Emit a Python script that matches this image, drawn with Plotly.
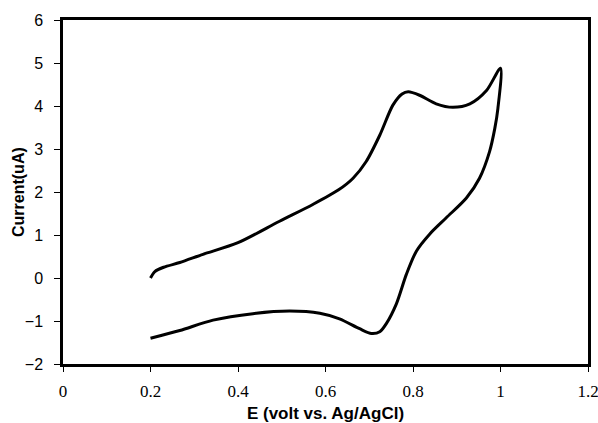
import plotly.graph_objects as go

# Forward (anodic) scan
E_fwd = [0.200, 0.210, 0.230, 0.267, 0.320, 0.400, 0.495, 0.571, 0.630, 0.663, 0.693,
         0.724, 0.754, 0.775, 0.789, 0.815, 0.853, 0.891, 0.930, 0.968, 1.000]
I_fwd = [0.00, 0.15, 0.25, 0.36, 0.55, 0.82, 1.32, 1.71, 2.05, 2.32, 2.71,
         3.32, 4.02, 4.28, 4.33, 4.25, 4.05, 3.97, 4.05, 4.36, 4.88]
# Reverse (cathodic) scan
E_rev = [1.000, 0.994, 0.987, 0.975, 0.952, 0.922, 0.876, 0.838, 0.808, 0.785, 0.762,
         0.739, 0.724, 0.705, 0.678, 0.632, 0.587, 0.518, 0.434, 0.343, 0.267, 0.200]
I_rev = [4.70, 3.94, 3.48, 2.94, 2.32, 1.86, 1.40, 1.02, 0.63, 0.09, -0.60,
         -1.06, -1.25, -1.29, -1.18, -0.95, -0.82, -0.77, -0.83, -0.98, -1.22, -1.40]

x_ticks = [0, 0.2, 0.4, 0.6, 0.8, 1, 1.2]
y_ticks = [-2, -1, 0, 1, 2, 3, 4, 5, 6]

fig = go.Figure()
fig.add_trace(go.Scatter(x=E_fwd + E_rev[1:], y=I_fwd + I_rev[1:], mode="lines",
                         line=dict(color="black", width=3, shape="spline", smoothing=0.8),
                         showlegend=False, hoverinfo="skip"))

fig.update_layout(
    width=598, height=423,
    margin=dict(l=63, r=10, t=20, b=59),
    paper_bgcolor="white", plot_bgcolor="white",
    xaxis=dict(range=[0, 1.2], tickvals=x_ticks, ticktext=[str(v) for v in x_ticks],
               automargin=False, ticklabelstandoff=5, ticklabeloverflow="allow",
               showgrid=False, zeroline=False, showline=True, linecolor="black", linewidth=2.5,
               mirror=True, ticks="outside", ticklen=5, tickcolor="black",
               tickfont=dict(family="Liberation Serif", size=17, color="black"),
               title=dict(text="<b>E (volt vs. Ag/AgCl)</b>", standoff=8,
                          font=dict(family="Liberation Sans", size=17, color="black"))),
    yaxis=dict(range=[-2, 6], tickvals=y_ticks, automargin=False, ticklabelstandoff=8,
               ticklabeloverflow="allow",
               showgrid=False, zeroline=False, showline=True, linecolor="black", linewidth=2.5,
               mirror=True, ticks="outside", ticklen=6, tickcolor="black",
               tickfont=dict(family="Liberation Sans", size=16, color="black")),
    annotations=[dict(text="<b>Current(uA)</b>", textangle=-90, showarrow=False,
                      xref="paper", yref="paper", x=-45 / 525, y=0.5,
                      xanchor="center", yanchor="middle",
                      font=dict(family="Liberation Sans", size=16, color="black"))],
)

fig.write_html("out.html", config={"displayModeBar": False},
               post_script="document.body.style.margin='0';document.body.style.overflow='hidden';")
